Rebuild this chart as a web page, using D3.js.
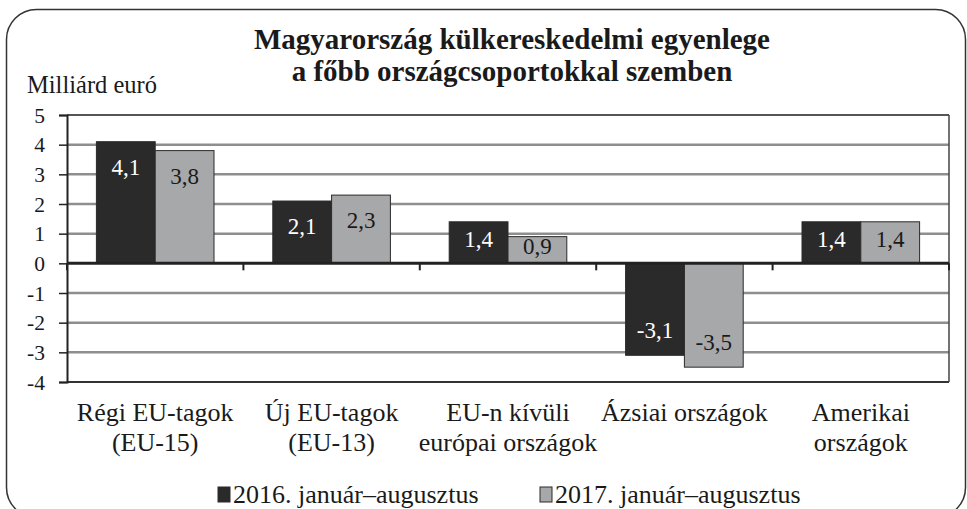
<!DOCTYPE html>
<html>
  <head>
    <meta charset="utf-8">
    <script src="https://d3js.org/d3.v7.min.js"></script>
    <style>
body { margin: 0; background: #fff; }
    </style>
  </head>
  <body>
    <script>
var categories = [
	["Régi EU-tagok", "(EU-15)"],
	["Új EU-tagok", "(EU-13)"],
	["EU-n kívüli", "európai országok"],
	["Ázsiai országok"],
	["Amerikai", "országok"]
];
var series = ["2016. január–augusztus", "2017. január–augusztus"];
var values2016 = [4.1, 2.1, 1.4, -3.1, 1.4];
var values2017 = [3.8, 2.3, 0.9, -3.5, 1.4];
var yTicks = [5, 4, 3, 2, 1, 0, -1, -2, -3, -4];
var colors = ["#2a2a2a", "#a7a8aa"];
var labelColors = ["#ffffff", "#1a1a1a"];

var FONT = "'Liberation Serif'";
var W = 967, H = 509;
var svg = d3.select("body").append("svg").attr("width", W).attr("height", H);

function txt(sel, size) {
	return sel.style("font-family", FONT).style("font-size", size + "px").style("fill", "#1a1a1a");
}

// rounded outer frame
svg.append("rect").attr("x", 6.5).attr("y", 9.5).attr("width", 959).attr("height", 508)
	.attr("rx", 30).attr("ry", 30)
	.style("fill", "none").style("stroke", "#333").style("stroke-width", 1.5);

// title
var title = txt(svg.append("text"), 29).attr("text-anchor", "middle").style("font-weight", "bold");
title.append("tspan").attr("x", 512).attr("y", 49).text("Magyarország külkereskedelmi egyenlege");
title.append("tspan").attr("x", 512).attr("y", 81).text("a főbb országcsoportokkal szemben");

txt(svg.append("text"), 24.5).attr("x", 27).attr("y", 93).text("Milliárd euró");

var pLeft = 67, pRight = 949, pTop = 115, pBottom = 382;
var x0 = d3.scaleBand().domain(d3.range(categories.length)).range([pLeft, pRight]).padding(0);
var x1 = d3.scaleBand().domain([0, 1]).range([0, x0.bandwidth()]).paddingInner(0).paddingOuter(0.5);
var y = d3.scaleLinear().domain([-4, 5]).range([pBottom, pTop]);

// gridlines
svg.append("g").selectAll("line").data(yTicks.filter(function (d) { return d != 0 && d != 5 && d != -4; }))
	.enter().append("line")
	.attr("x1", pLeft).attr("x2", pRight)
	.attr("y1", function (d) { return y(d); }).attr("y2", function (d) { return y(d); })
	.style("stroke", "#8e8e8e").style("stroke-width", 2.5);

// plot frame
svg.append("line").attr("x1", pLeft).attr("x2", pRight).attr("y1", y(5)).attr("y2", y(5)).style("stroke", "#555").style("stroke-width", 2);
svg.append("line").attr("x1", pLeft).attr("x2", pRight).attr("y1", y(-4)).attr("y2", y(-4)).style("stroke", "#333").style("stroke-width", 2);
svg.append("line").attr("x1", pRight).attr("x2", pRight).attr("y1", y(5)).attr("y2", y(-4)).style("stroke", "#444").style("stroke-width", 1.5);

// y axis
var yAxis = d3.axisLeft(y).tickValues(yTicks).tickSize(8).tickPadding(14).tickFormat(function (d) { return String(d); });
var ga = svg.append("g").attr("transform", "translate(" + pLeft + ",0)").call(yAxis);
ga.select(".domain").style("stroke", "#222").style("stroke-width", 2);
ga.selectAll(".tick line").style("stroke", "#222").style("stroke-width", 1.5);
txt(ga.selectAll(".tick text"), 21.5).attr("dy", "0.34em");

// bars
var rows = [];
categories.forEach(function (c, i) {
	rows.push({ cat: i, s: 0, v: values2016[i] });
	rows.push({ cat: i, s: 1, v: values2017[i] });
});
var bars = svg.append("g").selectAll("g").data(rows).enter().append("g");
bars.append("rect")
	.attr("x", function (d) { return x0(d.cat) + x1(d.s); })
	.attr("y", function (d) { return y(Math.max(0, d.v)); })
	.attr("width", x1.bandwidth())
	.attr("height", function (d) { return Math.abs(y(d.v) - y(0)); })
	.style("fill", function (d) { return colors[d.s]; })
	.style("stroke", "#2a2a2a").style("stroke-width", 1);
txt(bars.append("text"), 23)
	.attr("x", function (d) { return x0(d.cat) + x1(d.s) + x1.bandwidth() / 2; })
	.attr("y", function (d) {
		var h = Math.abs(y(d.v) - y(0));
		var off = Math.min(25, h / 2 - 4);
		return d.v >= 0 ? y(d.v) + off : y(d.v) - off;
	})
	.attr("dy", "0.35em")
	.attr("text-anchor", "middle")
	.style("fill", function (d) { return labelColors[d.s]; })
	.text(function (d) { return d.v.toFixed(1).replace(".", ","); });

// zero line with category ticks
svg.append("line").attr("x1", pLeft).attr("x2", pRight).attr("y1", y(0)).attr("y2", y(0)).style("stroke", "#222").style("stroke-width", 3);
svg.append("g").selectAll("line").data(d3.range(categories.length + 1)).enter().append("line")
	.attr("x1", function (i) { return pLeft + i * x0.step(); })
	.attr("x2", function (i) { return pLeft + i * x0.step(); })
	.attr("y1", y(0)).attr("y2", y(0) + 7)
	.style("stroke", "#222").style("stroke-width", 2);

// category labels
var cl = txt(svg.append("g").selectAll("text").data(categories).enter().append("text"), 26)
	.attr("text-anchor", "middle");
cl.each(function (c, i) {
	var t = d3.select(this);
	c.forEach(function (line, j) {
		t.append("tspan").attr("x", x0(i) + x0.bandwidth() / 2).attr("y", 421 + j * 30).text(line);
	});
});

// legend
var legX = [218, 540];
var lg = svg.append("g").selectAll("g").data(series).enter().append("g")
	.attr("transform", function (d, i) { return "translate(" + legX[i] + ",0)"; });
lg.append("rect").attr("x", 0).attr("y", 487).attr("width", 12).attr("height", 15)
	.style("fill", function (d, i) { return colors[i]; }).style("stroke", "#2a2a2a").style("stroke-width", 1);
txt(lg.append("text"), 26).attr("x", 15).attr("y", 503).text(function (d) { return d; });
    </script>
  </body>
</html>
